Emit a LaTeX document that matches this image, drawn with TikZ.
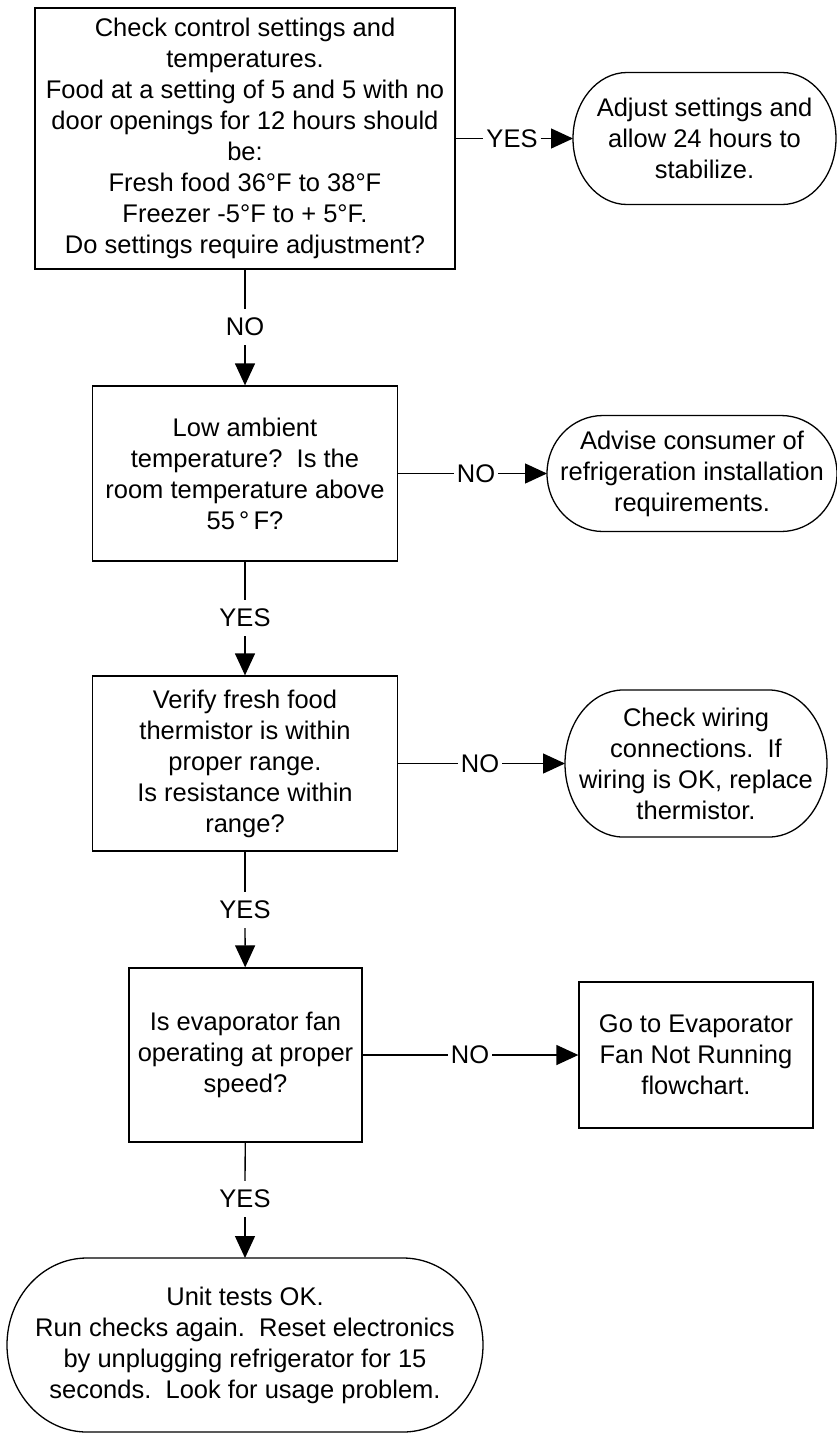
\documentclass[tikz,border=0pt]{standalone}
\usepackage{fontspec}
\setmainfont{Liberation Sans}
\usetikzlibrary{arrows.meta,calc}

\newcommand{\chartfont}{\fontsize{25.5}{31}\selectfont}
% outline of an end node: flat top and bottom, bulging sides
\newcommand{\drawterm}[2]{%
  \draw[conn] let \p1=(#1.north west), \p2=(#1.south east), \n1={(\y1-\y2)/2} in
    ([xshift=#2pt]#1.north west) -- ([xshift=-#2pt]#1.north east)
    arc[start angle=90, end angle=-90, x radius=#2pt, y radius=\n1]
    -- ([xshift=#2pt]#1.south west)
    arc[start angle=270, end angle=90, x radius=#2pt, y radius=\n1] -- cycle;}

\begin{document}
\begin{tikzpicture}[
    x=1pt, y=-1pt,
    % plain styles
    box/.style={rectangle, draw, line width=1.3pt, align=center, font=\chartfont, inner sep=2pt},
    term/.style={rectangle, outer sep=0pt, inner sep=0pt, align=center, font=\chartfont},
    answer/.style={font=\chartfont, inner xsep=3pt, inner ysep=9pt},
    conn/.style={line width=1.3pt},
    flow/.style={conn, -{Triangle[length=22pt, width=20pt]}}
]
\useasboundingbox (0,0) rectangle (836,1433);

% Step 1 - settings
\node[box, minimum width=420pt, minimum height=261pt] (check) at (245,138.5) {
    Check control settings and\\
    temperatures.\\
    Food at a setting of 5 and 5 with no\\
    door openings for 12 hours should\\
    be:\\
    Fresh food 36°F to 38°F\\
    Freezer -5°F to + 5°F.\\
    Do settings require adjustment?
};
\node[term, minimum width=263pt, minimum height=132pt] (adjust) at (704.5,138.5) {
    Adjust settings and\\
    allow 24 hours to\\
    stabilize.
};
\node[answer] (yes1) at (512,138.5) {YES};
\node[answer] (no1) at (245,327) {NO};

% Step 2 - ambient
\node[box, minimum width=305pt, minimum height=175pt] (ambient) at (245,473.5) {
    Low ambient\\
    temperature?\ \ Is the\\
    room temperature above\\
    55\,°\,F?
};
\node[term, minimum width=290pt, minimum height=116pt] (advise) at (692,473.5) {
    Advise consumer of\\
    refrigeration installation\\
    requirements.
};
\node[answer] (no2) at (476,473.5) {NO};
\node[answer] (yes2) at (245,618) {YES};

% Step 3 - thermistor
\node[box, minimum width=305pt, minimum height=175pt] (thermistor) at (245,763.5) {
    Verify fresh food\\
    thermistor is within\\
    proper range.\\
    Is resistance within\\
    range?
};
\node[term, minimum width=262pt, minimum height=147pt] (wiring) at (696,763.5) {
    Check wiring\\
    connections.\ \ If\\
    wiring is OK, replace\\
    thermistor.
};
\node[answer] (no3) at (480,763.5) {NO};
\node[answer] (yes3) at (245,910) {YES};

% Step 4 - fan
\node[box, minimum width=233pt, minimum height=174pt] (fan) at (245.5,1055) {
    Is evaporator fan\\
    operating at proper\\
    speed?
};
\node[box, minimum width=234pt, minimum height=146pt] (fanchart) at (696,1055) {
    Go to Evaporator\\
    Fan Not Running\\
    flowchart.
};
\node[answer] (no4) at (470,1055) {NO};
\node[answer] (yes4) at (245,1199) {YES};

% End
\node[term, minimum width=476pt, minimum height=174pt] (unitok) at (245,1345) {
    Unit tests OK.\\
    Run checks again.\ \ Reset electronics\\
    by unplugging refrigerator for 15\\
    seconds.\ \ Look for usage problem.
};

% end outlines
\drawterm{adjust}{54}
\drawterm{advise}{56}
\drawterm{wiring}{58}
\drawterm{unitok}{80}

% connectors
\draw[conn] (check.east) -- (yes1);
\draw[flow] (yes1) -- (adjust.west);
\draw[conn] (check) -- (no1);
\draw[flow] (no1) -- (ambient);

\draw[conn] (ambient.east) -- (no2);
\draw[flow] (no2) -- (advise.west);
\draw[conn] (ambient) -- (yes2);
\draw[flow] (yes2) -- (thermistor);

\draw[conn] (thermistor.east) -- (no3);
\draw[flow] (no3) -- (wiring.west);
\draw[conn] (thermistor) -- (yes3);
\draw[flow] (yes3) -- (fan);

\draw[conn] (fan.east) -- (no4);
\draw[flow] (no4) -- (fanchart.west);
\draw[conn] (fan) -- (yes4);
\draw[flow] (yes4) -- (unitok.north);

\end{tikzpicture}
\end{document}
